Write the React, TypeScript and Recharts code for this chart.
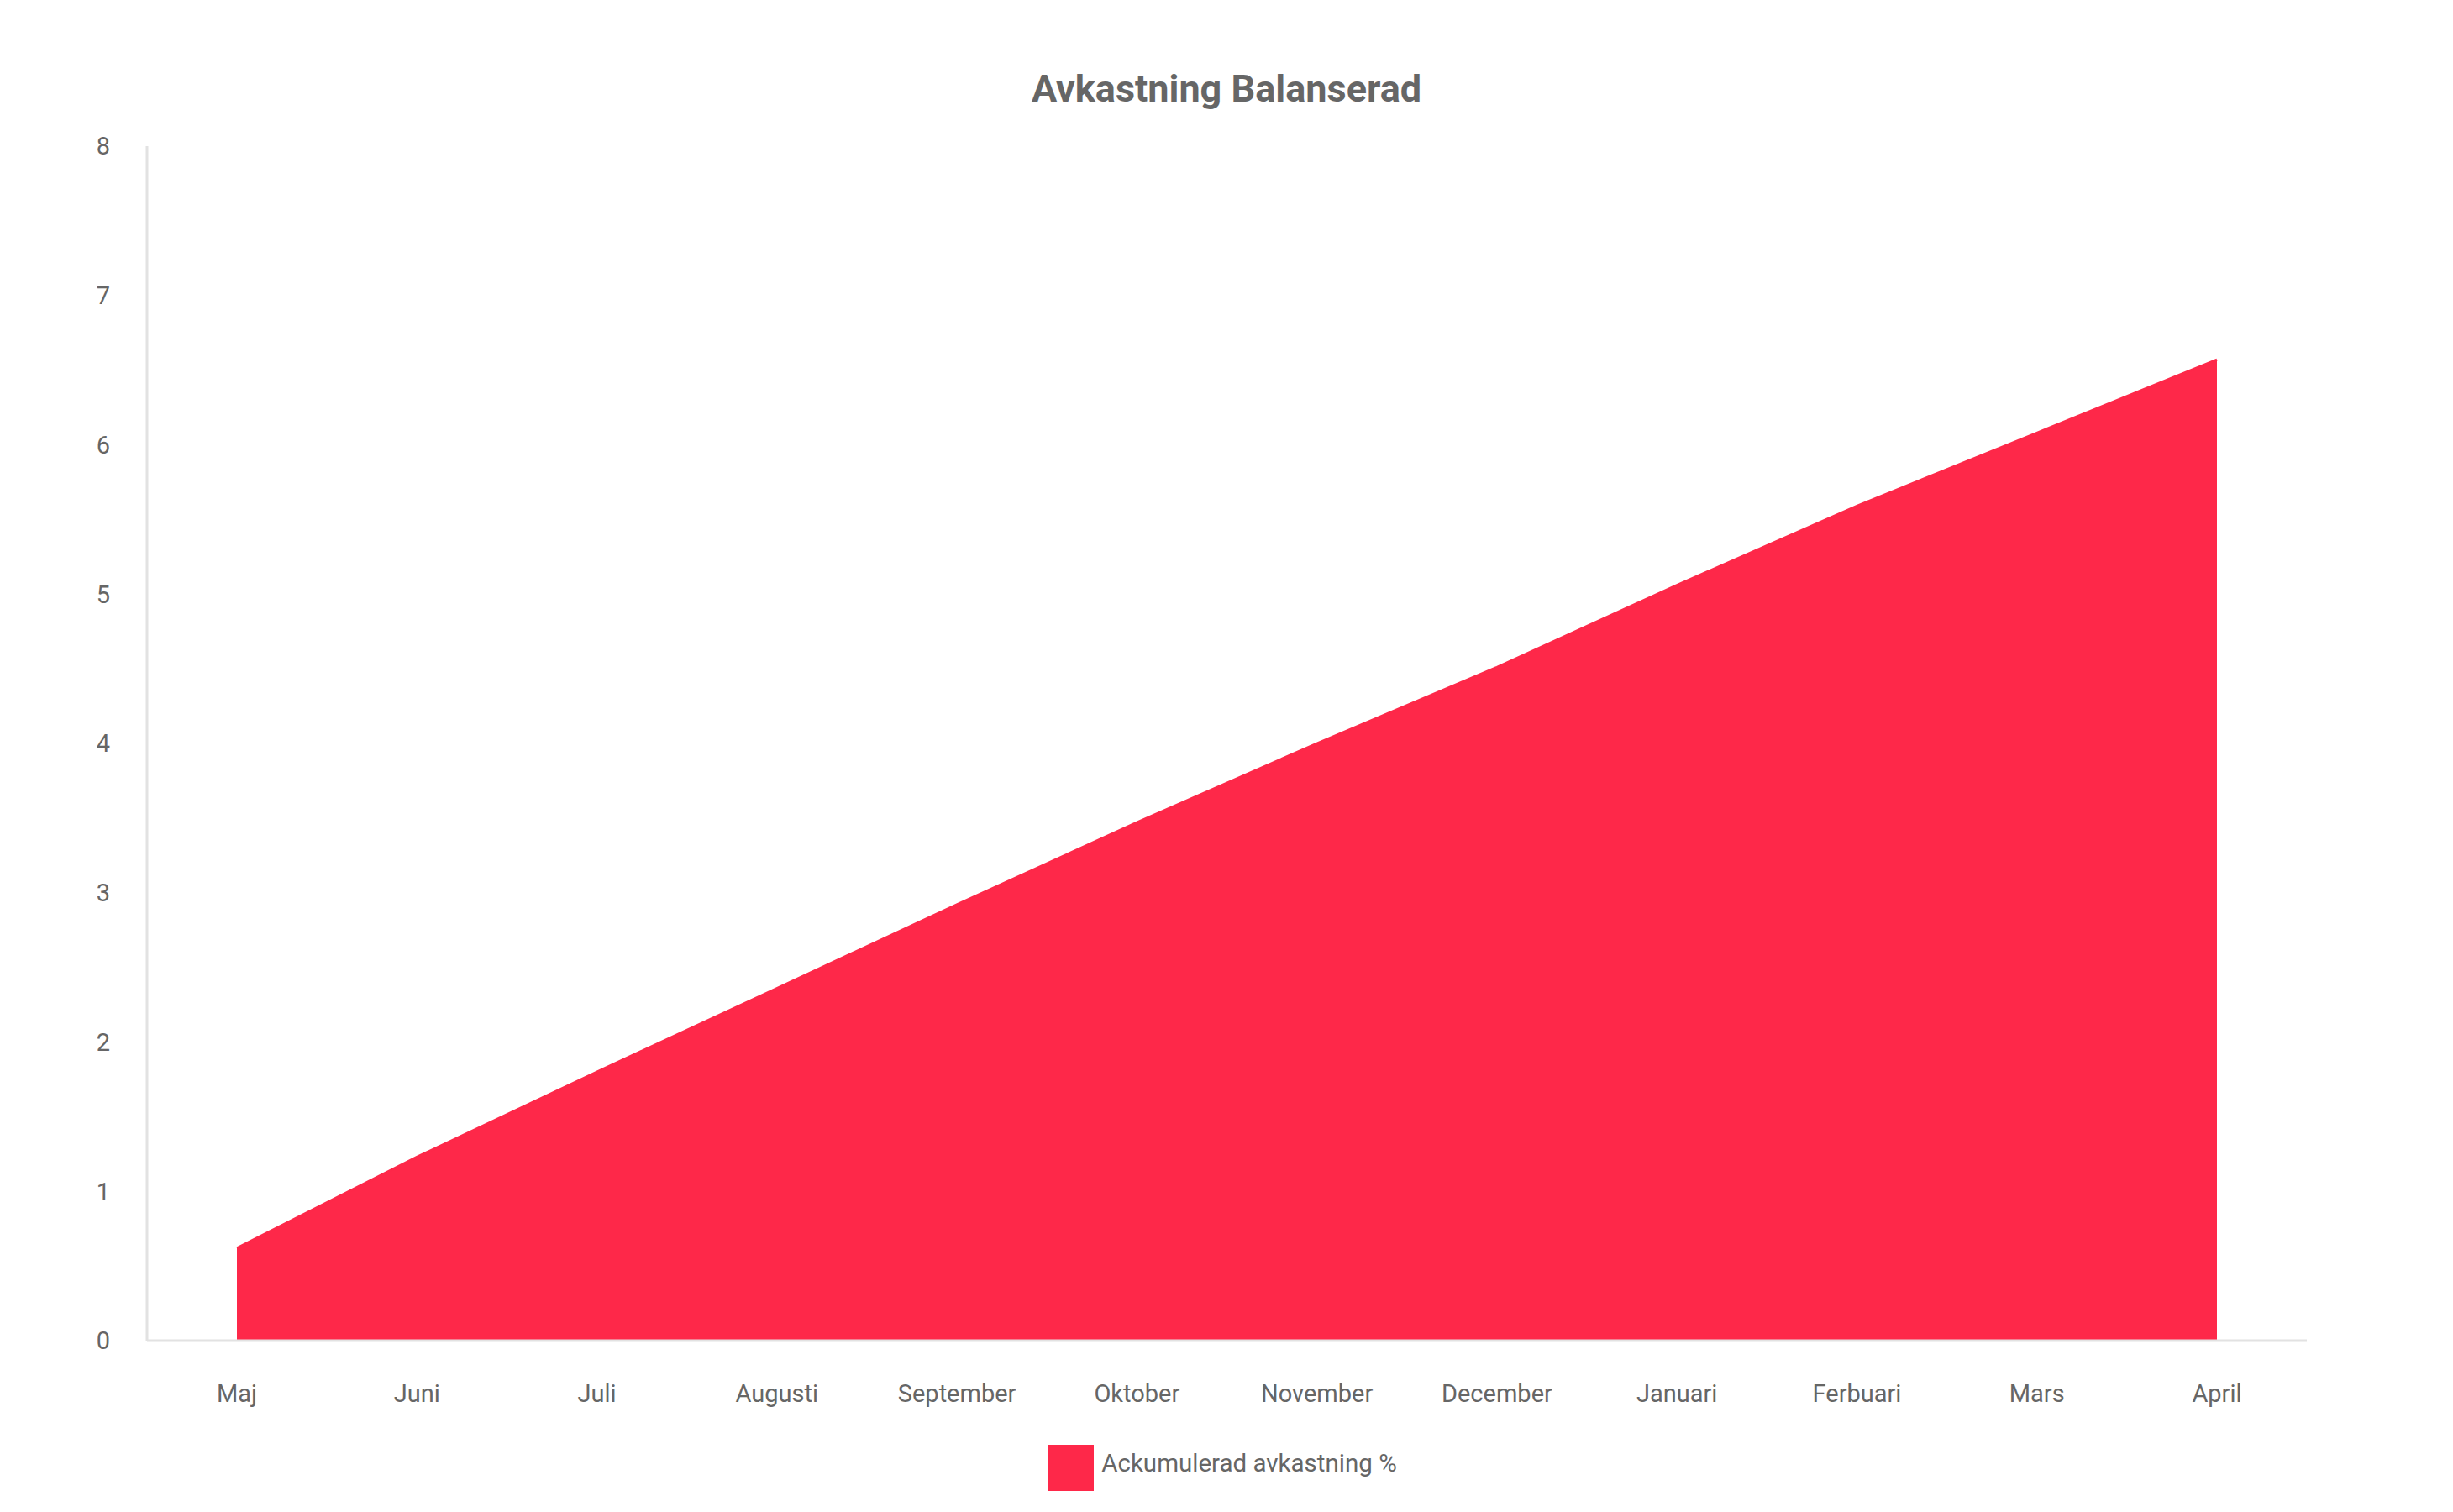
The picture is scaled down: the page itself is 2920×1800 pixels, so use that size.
import { Area, AreaChart, Legend, XAxis, YAxis } from "recharts";

const months = [
	"Maj",
	"Juni",
	"Juli",
	"Augusti",
	"September",
	"Oktober",
	"November",
	"December",
	"Januari",
	"Ferbuari",
	"Mars",
	"April",
];
const returns = [0.62, 1.23, 1.8, 2.36, 2.92, 3.47, 4.0, 4.51, 5.06, 5.59, 6.08, 6.57];
const yTicks = [0, 1, 2, 3, 4, 5, 6, 7, 8];

const SERIES = "Ackumulerad avkastning %";
const RED = "#FE2849";
const TEXT = "#666666";
const FONT = "Roboto, 'Noto Sans', sans-serif";

const data = months.map((m, i) => ({ month: m, value: returns[i] }));

export default function App() {
	return (
		<div style={{ position: "absolute", left: 0, top: 0, width: 2920, height: 1800, background: "#fff", fontFamily: FONT }}>
			<div
				style={{
					position: "absolute",
					left: 0,
					width: 2920,
					top: 76,
					textAlign: "center",
					fontFamily: FONT,
					fontWeight: 700,
					fontSize: 45,
					lineHeight: "60px",
					color: TEXT,
				}}
			>
				Avkastning Balanserad
			</div>
			<AreaChart width={2920} height={1800} data={data} margin={{ top: 174, right: 174, bottom: 25, left: 0 }}>
				<XAxis
					dataKey="month"
					padding={{ left: 107, right: 107 }}
					height={124}
					tickLine={false}
					tickSize={0}
					tickMargin={52}
					axisLine={{ stroke: "#e2e2e2", strokeWidth: 3 }}
					tick={{ fontSize: 29, fill: TEXT, fontFamily: FONT }}
				/>
				<YAxis
					domain={[0, 8]}
					ticks={yTicks}
					width={175}
					tickLine={false}
					tickSize={0}
					tickMargin={44}
					axisLine={{ stroke: "#e2e2e2", strokeWidth: 3 }}
					tick={{ fontSize: 29, fill: TEXT, fontFamily: FONT }}
				/>
				<Legend
					verticalAlign="bottom"
					align="center"
					iconType="square"
					iconSize={55}
					wrapperStyle={{ left: 0, width: 2920 }}
					formatter={(v) => <span style={{ color: TEXT, fontSize: 29.5, fontFamily: FONT, marginLeft: 5 }}>{v}</span>}
				/>
				<Area
					type="linear"
					dataKey="value"
					name={SERIES}
					stroke={RED}
					strokeWidth={3}
					fill={RED}
					fillOpacity={1}
					dot={false}
					activeDot={false}
					isAnimationActive={false}
				/>
			</AreaChart>
		</div>
	);
}
